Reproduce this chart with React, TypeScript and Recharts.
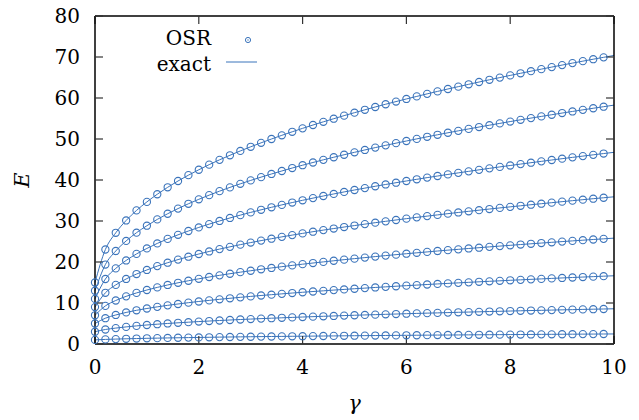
import { LineChart, Line, XAxis, YAxis, Legend } from "recharts";

// coupling values (markers at 0..9.8, curves run to 10)
const gammaValues = [
  0, 0.2, 0.4, 0.6, 0.8, 1, 1.2, 1.4, 1.6, 1.8, 2, 2.2, 2.4, 2.6, 2.8, 3, 3.2,
  3.4, 3.6, 3.8, 4, 4.2, 4.4, 4.6, 4.8, 5, 5.2, 5.4, 5.6, 5.8, 6, 6.2, 6.4, 6.6,
  6.8, 7, 7.2, 7.4, 7.6, 7.8, 8, 8.2, 8.4, 8.6, 8.8, 9, 9.2, 9.4, 9.6, 9.8, 10,
];

const level0 = [
  1, 1.12, 1.2, 1.27, 1.33, 1.39, 1.43, 1.48, 1.52, 1.56, 1.6, 1.64, 1.68, 1.71,
  1.74, 1.77, 1.8, 1.83, 1.85, 1.88, 1.9, 1.93, 1.95, 1.97, 2.0, 2.02, 2.04,
  2.06, 2.08, 2.1, 2.12, 2.14, 2.16, 2.18, 2.19, 2.21, 2.23, 2.25, 2.27, 2.28,
  2.3, 2.31, 2.33, 2.35, 2.36, 2.38, 2.39, 2.41, 2.42, 2.44, 2.45,
];
const level1 = [
  3, 3.54, 3.88, 4.17, 4.42, 4.64, 4.83, 5.01, 5.17, 5.32, 5.47, 5.6, 5.73,
  5.85, 5.97, 6.08, 6.19, 6.29, 6.39, 6.49, 6.58, 6.67, 6.76, 6.84, 6.93, 7.01,
  7.09, 7.16, 7.24, 7.31, 7.39, 7.46, 7.53, 7.59, 7.66, 7.73, 7.79, 7.85, 7.92,
  7.98, 8.04, 8.1, 8.16, 8.21, 8.27, 8.33, 8.38, 8.44, 8.49, 8.54, 8.59,
];
const level2 = [
  5, 6.29, 7.08, 7.7, 8.22, 8.66, 9.06, 9.43, 9.76, 10.08, 10.37, 10.64, 10.9,
  11.15, 11.38, 11.61, 11.83, 12.03, 12.23, 12.43, 12.62, 12.8, 12.97, 13.15,
  13.31, 13.48, 13.63, 13.79, 13.94, 14.09, 14.23, 14.37, 14.51, 14.65, 14.78,
  14.91, 15.04, 15.17, 15.29, 15.41, 15.54, 15.65, 15.77, 15.88, 16.0, 16.11,
  16.22, 16.33, 16.43, 16.54, 16.64,
];
const level3 = [
  7, 9.29, 10.61, 11.62, 12.46, 13.17, 13.81, 14.4, 14.93, 15.43, 15.9, 16.34,
  16.75, 17.14, 17.52, 17.87, 18.22, 18.55, 18.86, 19.17, 19.47, 19.75, 20.03,
  20.3, 20.57, 20.82, 21.07, 21.32, 21.56, 21.79, 22.02, 22.24, 22.46, 22.68,
  22.89, 23.09, 23.3, 23.49, 23.69, 23.88, 24.07, 24.26, 24.44, 24.62, 24.8,
  24.98, 25.15, 25.32, 25.49, 25.65, 25.82,
];
const level4 = [
  9, 12.49, 14.41, 15.86, 17.06, 18.06, 19.0, 19.83, 20.59, 21.29, 21.95, 22.57,
  23.15, 23.7, 24.23, 24.74, 25.22, 25.68, 26.13, 26.56, 26.98, 27.39, 27.78,
  28.16, 28.53, 28.89, 29.24, 29.59, 29.92, 30.25, 30.57, 30.89, 31.19, 31.49,
  31.79, 32.08, 32.36, 32.64, 32.92, 33.19, 33.45, 33.71, 33.97, 34.22, 34.47,
  34.72, 34.96, 35.2, 35.44, 35.67, 35.9,
];
const level5 = [
  11, 15.85, 18.44, 20.38, 21.97, 23.31, 24.53, 25.63, 26.63, 27.56, 28.43,
  29.24, 30.01, 30.74, 31.43, 32.1, 32.73, 33.34, 33.93, 34.5, 35.05, 35.58,
  36.1, 36.6, 37.09, 37.56, 38.02, 38.47, 38.91, 39.34, 39.76, 40.17, 40.58,
  40.97, 41.36, 41.74, 42.11, 42.48, 42.84, 43.19, 43.54, 43.88, 44.22, 44.55,
  44.88, 45.2, 45.52, 45.83, 46.14, 46.45, 46.75,
];
const level6 = [
  13, 19.38, 22.68, 25.14, 27.15, 28.85, 30.39, 31.77, 33.03, 34.2, 35.29,
  36.31, 37.28, 38.2, 39.07, 39.9, 40.7, 41.47, 42.2, 42.92, 43.61, 44.27,
  44.92, 45.55, 46.16, 46.75, 47.33, 47.9, 48.45, 48.99, 49.51, 50.03, 50.54,
  51.03, 51.52, 51.99, 52.46, 52.92, 53.37, 53.81, 54.25, 54.68, 55.1, 55.51,
  55.92, 56.33, 56.72, 57.11, 57.5, 57.88, 58.26,
];
const level7 = [
  15, 23.05, 27.12, 30.13, 32.58, 34.66, 36.53, 38.22, 39.76, 41.18, 42.5,
  43.75, 44.92, 46.03, 47.09, 48.1, 49.07, 50.0, 50.9, 51.76, 52.6, 53.41,
  54.19, 54.95, 55.7, 56.42, 57.12, 57.81, 58.48, 59.13, 59.77, 60.39, 61.01,
  61.61, 62.2, 62.77, 63.34, 63.9, 64.44, 64.98, 65.51, 66.03, 66.54, 67.04,
  67.54, 68.03, 68.51, 68.99, 69.46, 69.92, 70.38,
];

const levels = [level0, level1, level2, level3, level4, level5, level6, level7];
const xTicks = [0, 2, 4, 6, 8, 10];
const yTicks = [0, 10, 20, 30, 40, 50, 60, 70, 80];

const rows = gammaValues.map((g, i) => {
  const row: Record<string, number> = { g };
  levels.forEach((lv, k) => {
    row["n" + k] = lv[i];
  });
  return row;
});

const BLUE = "#3b74bb";
const FONT = "'DejaVu Serif', serif";
const tickStyle = { fontFamily: FONT, fontSize: 20, fill: "#000" };
const frameLine = { stroke: "#000", strokeWidth: 1.5 };
const tickMark = { stroke: "#333", strokeWidth: 1.2 };
const noLabel = () => <g />;

// open circle markers, none at the last sample (gamma = 10)
function OpenCircle(props: any) {
  const { cx, cy, index, payload } = props;
  if (cx == null || cy == null || payload.g > 9.9) return <g key={index} />;
  return (
    <circle
      key={index}
      cx={cx}
      cy={cy}
      r={3.6}
      fill="none"
      stroke={BLUE}
      strokeWidth={1.1}
    />
  );
}

function KeyBox() {
  return (
    <svg width={130} height={60} style={{ display: "block" }}>
      <text x={70} y={25} textAnchor="end" fontFamily={FONT} fontSize={20}>
        OSR
      </text>
      <circle cx={107} cy={20} r={2.6} fill="none" stroke={BLUE} />
      <circle cx={107} cy={20} r={0.7} fill={BLUE} />
      <text x={70} y={50.5} textAnchor="end" fontFamily={FONT} fontSize={20}>
        exact
      </text>
      <line x1={85} x2={116} y1={42} y2={42} stroke={BLUE} strokeWidth={1} />
    </svg>
  );
}

export default function App() {
  return (
    <div style={{ position: "absolute", left: 0, top: 0, background: "#fff" }}>
      <LineChart
        width={639}
        height={420}
        data={rows}
        margin={{ top: 15, right: 24, bottom: 0, left: 0 }}
      >
        <XAxis
          dataKey="g"
          type="number"
          domain={[0, 10]}
          ticks={xTicks}
          height={76}
          tickSize={-8}
          tickMargin={24}
          tick={tickStyle}
          axisLine={frameLine}
          tickLine={tickMark}
          label={{
            value: "γ",
            position: "insideBottom",
            offset: 10,
            style: { fontFamily: FONT, fontSize: 21, fontStyle: "italic", fill: "#000" },
          }}
        />
        <XAxis
          xAxisId="top"
          dataKey="g"
          type="number"
          orientation="top"
          domain={[0, 10]}
          ticks={xTicks}
          height={1}
          tickSize={-8}
          tick={noLabel}
          axisLine={frameLine}
          tickLine={tickMark}
        />
        <YAxis
          type="number"
          domain={[0, 80]}
          ticks={yTicks}
          width={95}
          tickSize={-8}
          tickMargin={23}
          tick={tickStyle}
          axisLine={frameLine}
          tickLine={tickMark}
          label={{
            value: "E",
            angle: -90,
            position: "insideLeft",
            offset: 22,
            style: {
              fontFamily: FONT,
              fontSize: 21,
              fontStyle: "italic",
              fill: "#000",
              textAnchor: "middle",
            },
          }}
        />
        <YAxis
          yAxisId="right"
          orientation="right"
          type="number"
          domain={[0, 80]}
          ticks={yTicks}
          width={1}
          tickSize={-8}
          tick={noLabel}
          axisLine={frameLine}
          tickLine={tickMark}
        />
        <Legend
          layout="vertical"
          align="center"
          verticalAlign="middle"
          content={() => <KeyBox />}
          wrapperStyle={{ left: 141, top: 20, width: 130, height: 60 }}
        />
        {levels.map((_, k) => (
          <Line
            key={k}
            dataKey={"n" + k}
            type="monotone"
            stroke={BLUE}
            strokeWidth={1}
            dot={OpenCircle}
            activeDot={false}
            isAnimationActive={false}
          />
        ))}
        {/* invisible series so the mirrored axes are drawn */}
        <Line
          xAxisId="top"
          yAxisId="right"
          dataKey="n0"
          stroke="none"
          dot={false}
          activeDot={false}
          legendType="none"
          isAnimationActive={false}
        />
      </LineChart>
    </div>
  );
}
